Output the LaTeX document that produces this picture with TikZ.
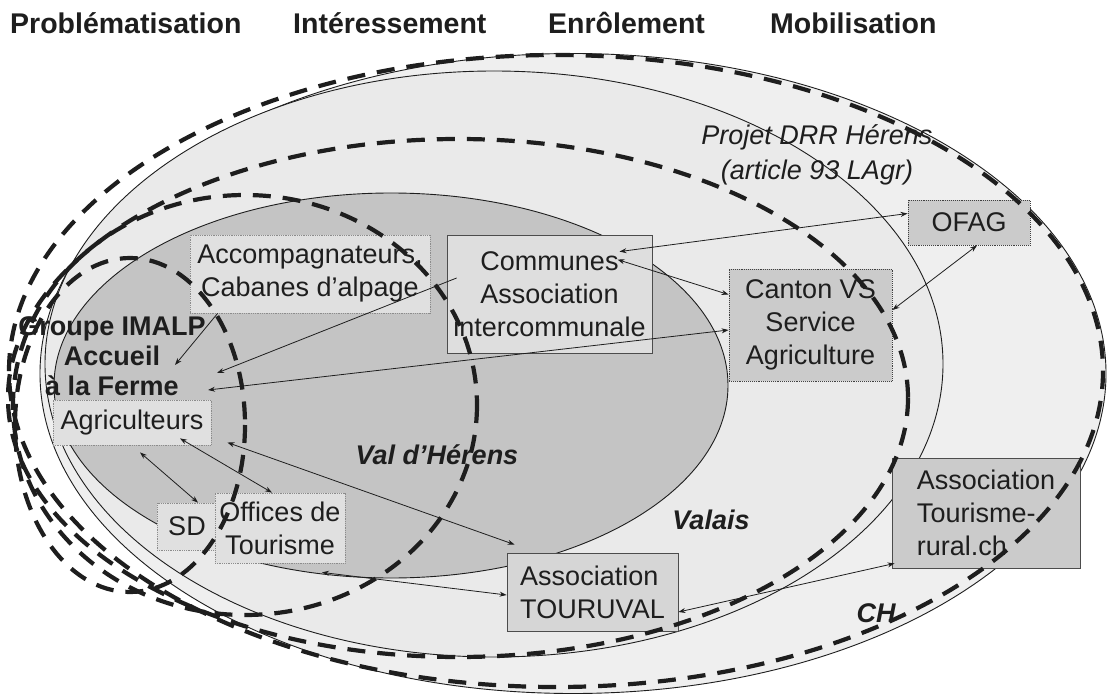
\documentclass[tikz,border=0pt]{standalone}
\usepackage{fontspec}
\setmainfont{Liberation Sans}
\usetikzlibrary{arrows.meta,calc}
\definecolor{chfill}{HTML}{EFEFEF}
\definecolor{vsfill}{HTML}{EAEAEA}
\definecolor{vhfill}{HTML}{C4C4C4}
\definecolor{lightbox}{HTML}{E0E0E0}
\definecolor{midbox}{HTML}{D6D6D6}
\definecolor{darkbox}{HTML}{CBCBCB}
\definecolor{ink}{HTML}{1E1E1E}
\newcommand\bxf{\fontsize{27pt}{33pt}\selectfont}
\newcommand\ttlf{\fontsize{28.5pt}{34pt}\selectfont}
\begin{document}
\begin{tikzpicture}[x=1pt,y=-1pt,
  region/.style={draw=ink, line width=0.9pt},
  phase/.style={draw=ink, line width=4.2pt, dash pattern=on 18pt off 12pt},
  boxbase/.style={inner sep=0pt, align=center, font=\bxf, text=ink},
  litebox/.style={boxbase, fill=lightbox, draw=black!45, densely dotted, line width=0.8pt},
  solidbox/.style={boxbase, fill=midbox, draw=black!70, line width=0.8pt},
  dotbox/.style={boxbase, fill=darkbox, draw=black!75, densely dotted, line width=0.9pt},
  ttl/.style={font=\ttlf\bfseries, text=ink, inner sep=0pt, anchor=west},
  lab/.style={inner sep=0pt, text=ink, align=center},
  >={Stealth[length=7pt,width=5pt]},
  link/.style={draw=ink, line width=0.8pt}
]
\useasboundingbox (0,0) rectangle (1108,695);
\fill[white] (0,0) rectangle (1108,695);

% phase titles
\node[ttl] (t1) at (10,23) {Problématisation};
\node[ttl] (t2) at (293,23) {Intéressement};
\node[ttl] (t3) at (548,23) {Enrôlement};
\node[ttl] (t4) at (770,23) {Mobilisation};

% territorial regions
\path[region, fill=chfill] (573,373.5) ellipse [x radius=533, y radius=320];
\path[region, fill=vsfill] (494,364) ellipse [x radius=449, y radius=293];
\path[region, fill=vhfill] (391,385.5) ellipse [x radius=337, y radius=192.5];

% labels
\node[lab, font=\bxf\bfseries\itshape] (vh) at (437,455) {Val d’Hérens};
\node[lab, font=\bxf\bfseries\itshape] (vs) at (711,520) {Valais};
\node[lab, font=\bxf\bfseries\itshape] (ch) at (876,613) {CH};
\node[lab, font=\fontsize{27pt}{35pt}\selectfont\itshape] (drr) at (817,155) {Projet DRR Hérens\\(article 93 LAgr)};
\node[lab, font=\fontsize{27pt}{30pt}\selectfont\bfseries] (imalp) at (112,356) {Groupe IMALP\\Accueil\\à la Ferme};

% actor boxes
\node[litebox, minimum width=240pt, minimum height=78pt] (acc) at (310,274) {Accompagnateurs,\\Cabanes d’alpage};
\node[solidbox, fill=lightbox!80!midbox, minimum width=205pt, minimum height=118pt] (comm) at (549.5,294) {Communes\\Association\\intercommunale};
\node[dotbox, minimum width=163pt, minimum height=112pt] (cant) at (810.5,325) {Canton VS\\Service\\Agriculture};
\node[dotbox, minimum width=122pt, minimum height=45pt] (ofag) at (969,222.5) {OFAG};
\node[litebox, minimum width=158pt, minimum height=45pt] (agri) at (132,422.5) {Agriculteurs};
\node[litebox, minimum width=60pt, minimum height=47pt] (sd) at (187,526.5) {SD};
\node[litebox, minimum width=130pt, minimum height=70pt] (off) at (280,528) {Offices de\\Tourisme};
\node[solidbox, align=left, minimum width=171pt, minimum height=78pt] (tour) at (592.5,592) {Association\\TOURUVAL};
\node[solidbox, fill=darkbox, align=left, minimum width=188pt, minimum height=110pt] (trur) at (986,513) {Association\\Tourisme-\\rural.ch};

% translation phases
\draw[phase] (130,425) ellipse [x radius=115, y radius=167];
\draw[phase] (245,405) ellipse [x radius=232, y radius=210];
\draw[phase] (458,398) ellipse [x radius=450, y radius=259];
\draw[phase] (556,371) ellipse [x radius=547, y radius=316];

% relations
\draw[link,->] ([xshift=28pt]acc.south west) -- ([xshift=63pt,yshift=-9pt]imalp.center);
\draw[link,->] ([xshift=10pt,yshift=16pt]comm.west) -- ([xshift=105pt,yshift=-17pt]imalp.center);
\draw[link,<->] ([xshift=96pt,yshift=-34pt]imalp.center) -- ([yshift=-5pt]cant.west);
\draw[link,<->] ([xshift=68pt,yshift=-25pt]comm.north) -- ([yshift=-26pt]cant.north west);
\draw[link,<->] ([xshift=70pt,yshift=-17pt]comm.north) -- ([yshift=9pt]ofag.west);
\draw[link,<->] ([xshift=8pt]ofag.south) -- ([yshift=15pt]cant.east);
\draw[link,<->] ([xshift=8pt,yshift=-7pt]agri.south) -- ([xshift=11pt]sd.north);
\draw[link,<->] ([xshift=48pt,yshift=7pt]agri.south) -- ([xshift=-8pt]off.north);
\draw[link,<->] ([xshift=16pt,yshift=-20pt]agri.east) -- ([xshift=8pt,yshift=8pt]tour.north west);
\draw[link,<->] ([xshift=42pt,yshift=-9pt]off.south) -- ([yshift=-3pt]tour.west);
\draw[link,<->] ([yshift=-20pt]tour.east) -- ([xshift=3pt,yshift=5pt]trur.south west);
\end{tikzpicture}
\end{document}
